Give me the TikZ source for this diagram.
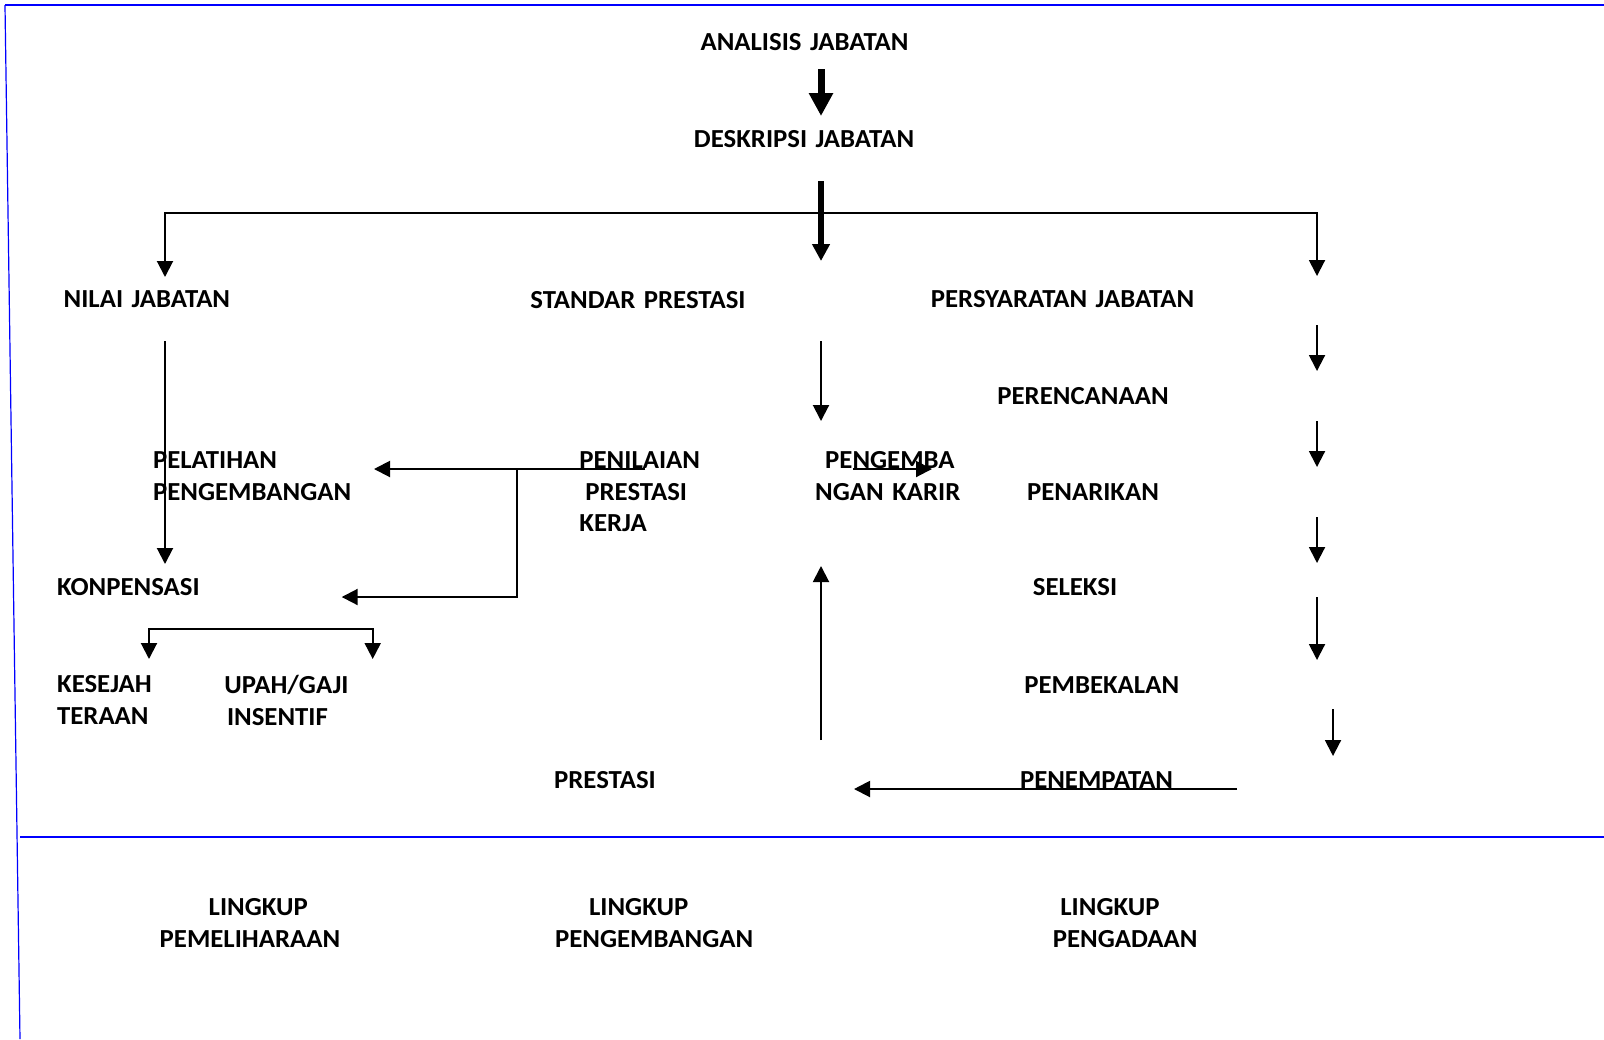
\documentclass[tikz,border=0pt]{standalone}
\usepackage{fontspec}
\setmainfont{Carlito}[FakeStretch=1.03,WordSpace=1.4]
\usetikzlibrary{arrows.meta}

\begin{document}
\begin{tikzpicture}[x=0.5pt,y=-0.5pt,
		lbl/.style={font=\bfseries\fontsize{13}{15.9}\selectfont,inner sep=0pt,align=left},
		arr/.style={line width=1pt,-{Triangle[width=8pt,length=8pt]}},
		twotips/.style={line width=1pt,{Triangle[width=8pt,length=8pt]}-{Triangle[width=8pt,length=8pt]}},
		fatarr/.style={line width=3.5pt,-{Triangle[width=11.5pt,length=11.5pt]}},
		midarr/.style={line width=3pt,-{Triangle[width=8.5pt,length=8.5pt]}},
		bluerule/.style={draw=blue,line width=1pt}]
		\useasboundingbox (0,0) rectangle (1604,1039);
		
		% blue frame
		\draw[bluerule] (5,5) -- (1604,5);
		\draw[bluerule,line width=0.6pt] (5,5) -- (20,1039);
		\draw[bluerule] (20,837) -- (1604,837);
		
		% labels
		\node[lbl,anchor=north] (ana) at (804.5,33.5) {ANALISIS JABATAN};
		\node[lbl,anchor=north] (des) at (804,130.3) {DESKRIPSI JABATAN};
		\node[lbl,anchor=north west] (nil) at (63.3,290.6) {NILAI JABATAN};
		\node[lbl,anchor=north] (std) at (638,290.6) {STANDAR PRESTASI};
		\node[lbl,anchor=north] (syr) at (1062.5,290) {PERSYARATAN JABATAN};
		\node[lbl,anchor=north] (ren) at (1083,386.6) {PERENCANAAN};
		\node[lbl,anchor=north west] (pel) at (152.7,451) {PELATIHAN\\PENGEMBANGAN};
		\node[lbl,anchor=north west] (nil2) at (579,451) {PENILAIAN\\\hspace*{3pt}PRESTASI\\KERJA};
		\node[lbl,anchor=north west] (kar) at (814.8,451) {\hspace*{5pt}PENGEMBA\\NGAN KARIR};
		\node[lbl,anchor=north] (tar) at (1093,483) {PENARIKAN};
		\node[lbl,anchor=north west] (kom) at (56.7,578.3) {KONPENSASI};
		\node[lbl,anchor=north] (sel) at (1075,577.6) {SELEKSI};
		\node[lbl,anchor=north west] (kes) at (56.7,675) {KESEJAH\\TERAAN};
		\node[lbl,anchor=north west] (upa) at (224,675) {UPAH/GAJI\\\hspace*{1.3pt}INSENTIF};
		\node[lbl,anchor=north] (bek) at (1101.7,676) {PEMBEKALAN};
		\node[lbl,anchor=north] (pre) at (605,771) {PRESTASI};
		\node[lbl,anchor=north] (tem) at (1096.5,771) {PENEMPATAN};
		\node[lbl,anchor=north west] (lg1) at (159.3,898.3) {\hspace*{24.5pt}LINGKUP\\PEMELIHARAAN};
		\node[lbl,anchor=north west] (lg2) at (554.7,898.3) {\hspace*{17pt}LINGKUP\\PENGEMBANGAN};
		\node[lbl,anchor=north west] (lg3) at (1052.5,898.3) {\hspace*{3.75pt}LINGKUP\\PENGADAAN};
		
		% connector ends
		\coordinate (a1) at (821,69);   \coordinate (a2) at (821,116);
		\coordinate (b1) at (821,181);  \coordinate (b2) at (821,261);
		\coordinate (brL) at (165,277); \coordinate (brT) at (165,213); \coordinate (brR) at (1317,276);
		\coordinate (nv1) at (165,341); \coordinate (nv2) at (165,564);
		\coordinate (sv1) at (821,341); \coordinate (sv2) at (821,421);
		\coordinate (r1) at (1317,325); \coordinate (r2) at (1317,371);
		\coordinate (r3) at (1317,421); \coordinate (r4) at (1317,467);
		\coordinate (r5) at (1317,517); \coordinate (r6) at (1317,563);
		\coordinate (r7) at (1317,597); \coordinate (r8) at (1317,660);
		\coordinate (r9) at (1333,709); \coordinate (r10) at (1333,756);
		\coordinate (ph1) at (645,469); \coordinate (ph2) at (374,469);
		\coordinate (pv1) at (516.6,469); \coordinate (pv2) at (341.7,597);
		\coordinate (kr1) at (853,469); \coordinate (kr2) at (932,469);
		\coordinate (kb1) at (149,659); \coordinate (kb2) at (149,629); \coordinate (kb3) at (372.7,659);
		\coordinate (up1) at (821,740); \coordinate (up2) at (821,566);
		\coordinate (bt1) at (1237,789); \coordinate (bt2) at (854,789);
		
		% connectors
		\draw[twotips] (brL) -- (brT) -| (brR);
		\draw[twotips] (kb1) -- (kb2) -| (kb3);
		\draw[arr] (pv1) |- (pv2);
		\path[arr]
		(nv1) edge (nv2)
		(sv1) edge (sv2)
		(r1) edge (r2)
		(r3) edge (r4)
		(r5) edge (r6)
		(r7) edge (r8)
		(r9) edge (r10)
		(ph1) edge (ph2)
		(kr1) edge (kr2)
		(up1) edge (up2)
		(bt1) edge (bt2);
		\draw[fatarr] (a1) -- (a2);
		\draw[midarr] (b1) -- (b2);
		\end{tikzpicture}
\end{document}
